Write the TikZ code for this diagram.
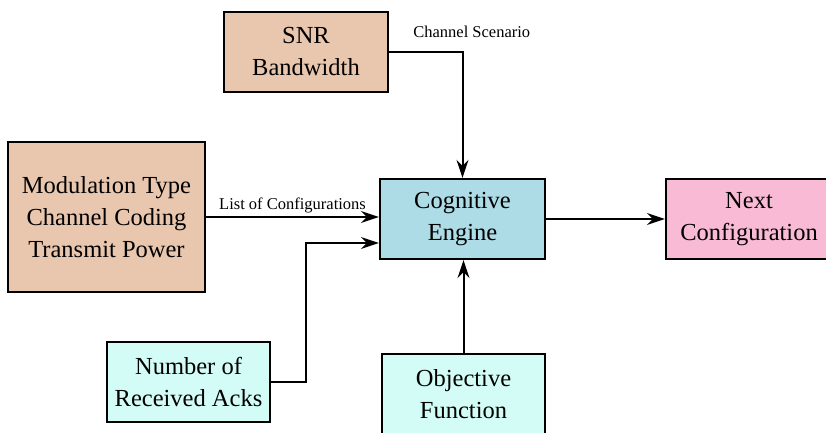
\documentclass[tikz,border=0pt]{standalone}
\usepackage{fontspec}
\setmainfont{Liberation Serif}
\usetikzlibrary{arrows.meta,positioning}
\definecolor{peach}{RGB}{233,198,174}
\definecolor{engblue}{RGB}{173,219,230}
\definecolor{nextpink}{RGB}{249,186,214}
\definecolor{mint}{RGB}{210,252,245}

\begin{document}
\begin{tikzpicture}[x=1pt,y=1pt,
        blk/.style={draw, line width=2.3pt, minimum height=80pt, inner sep=0pt, align=center,
            font=\fontsize{24.5}{32}\selectfont},
        conn/.style={line width=2pt, -{Stealth[length=18pt,width=12pt,inset=6pt]}},
        lbl/.style={inner sep=3pt, font=\fontsize{16.5}{20}\selectfont}]
            \useasboundingbox (0,0) rectangle (826,432);
            % blocks
            \node[blk, fill=peach, minimum width=164pt] (snr) at (306,380) {SNR\\Bandwidth};
            \node[blk, fill=peach, minimum width=197pt, minimum height=150pt] (mod) at (106.5,215) {Modulation Type\\Channel Coding\\Transmit Power};
            \node[blk, fill=engblue, minimum width=165pt] (ce) at (462.5,213) {Cognitive\\Engine};
            \node[blk, fill=nextpink, minimum width=166pt] (next) at (749,213) {Next\\Configuration};
            \node[blk, fill=mint, minimum width=163pt] (acks) at (188.5,50) {Number of\\Received Acks};
            \node[blk, fill=mint, minimum width=163pt] (obj) at (463.5,38) {Objective\\Function};
            % connectors
            \draw[conn] (snr.east) -| (ce.north);
            \node[lbl, above right=11pt and 21pt of snr.east] (chsc) {Channel Scenario};
            \draw[conn] (mod.east) -- (mod.east -| ce.west) node[lbl, midway, above] (lst) {List of Configurations};
            \coordinate (ackin) at ([yshift=-24pt]ce.west);
            \draw[conn] (acks.east) -- ++(35,0) |- (ackin);
            \draw[conn] (obj.north) -- (obj.north |- ce.south);
            \draw[conn] (ce.east) -- (next.west);
        \end{tikzpicture}
\end{document}
